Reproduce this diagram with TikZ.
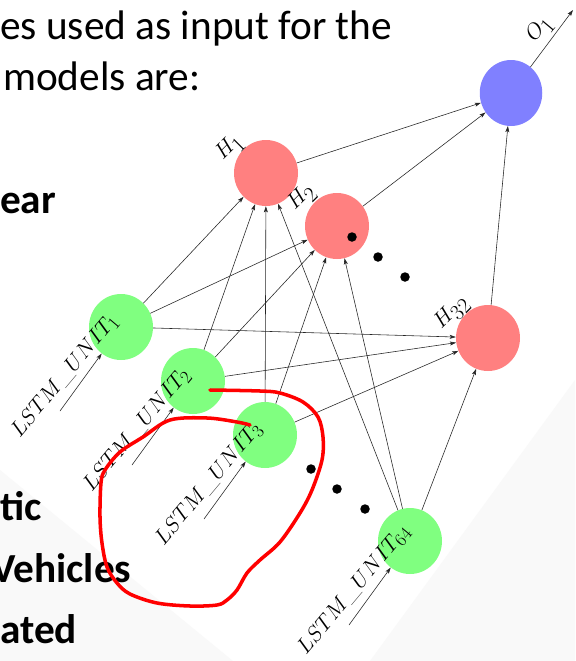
\documentclass[tikz,border=0pt]{standalone}
\usepackage{fontspec}
\newfontfamily\slidefont{Carlito}
\usetikzlibrary{positioning}
\usetikzlibrary{shapes}
\usetikzlibrary{arrows.meta}
\tikzset{unitnode/.style={ellipse, minimum width=25.6mm, minimum height=26.4mm, inner sep=0pt, fill=green!50}}
\tikzset{hidnode/.style={ellipse, minimum width=25.6mm, minimum height=26.4mm, inner sep=0pt, fill=red!50}}
\tikzset{outnode/.style={ellipse, minimum width=25mm, minimum height=26.4mm, inner sep=0pt, fill=blue!50}}
\tikzset{dotnode/.style={circle, fill=black, inner sep=0pt, minimum size=3.8mm}}
\tikzset{conn/.style={->, draw=black!85, line width=0.65pt}}
\tikzset{unitlabel/.style={font=\fontsize{28}{30}\selectfont, rotate=50, inner sep=0pt}}
\tikzset{hlabel/.style={font=\fontsize{33}{36}\selectfont, rotate=45, inner sep=0pt}}
\tikzset{slidetext/.style={anchor=base west, inner sep=0pt, font=\slidefont\fontsize{47}{54}\selectfont}}
\tikzset{slidebold/.style={anchor=base west, inner sep=0pt, font=\slidefont\bfseries\fontsize{47}{54}\selectfont}}
\tikzset{redpen/.style={draw=red, line width=4pt, line cap=round, line join=round}}
\tikzset{>={Stealth[length=7pt, width=4.5pt, inset=1.5pt]}}

\begin{document}
\begin{tikzpicture}[x=0.4mm, y=-0.4mm]

\useasboundingbox (0,0) rectangle (575,661);
\fill[white] (0,0) rectangle (575,661);
% faint slide backdrop
\fill[gray!5] (0,470) -- (233,661) -- (0,661) -- cycle;
\fill[gray!5] (370,661) -- (575,380) -- (575,661) -- cycle;

% slide text
\node[slidetext] (txt1) at (0,39) {es used as input for the};
\node[slidetext] (txt2) at (3,90) {models are:};
\node[slidebold] (txt3) at (0,213) {ear};
\node[slidebold] (txt4) at (0,520) {tic};
\node[slidebold] (txt5) at (-9,582) {Vehicles};
\node[slidebold] (txt6) at (0,643) {ated};

% network
\node[outnode] (o1) at (511,93) {};
\node[hidnode] (h1) at (266,173) {};
\node[hidnode] (h2) at (337,226) {};
\node[hidnode] (h32) at (488,338) {};
\node[unitnode] (u1) at (121,327) {};
\node[unitnode] (u2) at (193,381) {};
\node[unitnode] (u3) at (265,435) {};
\node[unitnode] (u64) at (410,541) {};

\node[dotnode] (d1) at (352,237) {};
\node[dotnode] (d2) at (378,257) {};
\node[dotnode] (d3) at (405,277) {};
\node[dotnode] (d4) at (311,469) {};
\node[dotnode] (d5) at (337,489) {};
\node[dotnode] (d6) at (365,509) {};

\coordinate (u1in) at (60,411);
\coordinate (u2in) at (132,465);
\coordinate (u3in) at (204,519);
\coordinate (u64in) at (349,625);
\coordinate (o1out) at (573,10);

\draw[conn] (u1in) -- (u1);
\draw[conn] (u2in) -- (u2);
\draw[conn] (u3in) -- (u3);
\draw[conn] (u64in) -- (u64);

\draw[conn] (u1) -- (h1);
\draw[conn] (u1) -- (h2);
\draw[conn] (u1) -- (h32);
\draw[conn] (u2) -- (h1);
\draw[conn] (u2) -- (h2);
\draw[conn] (u2) -- (h32);
\draw[conn] (u3) -- (h1);
\draw[conn] (u3) -- (h2);
\draw[conn] (u3) -- (h32);
\draw[conn] (u64) -- (h1);
\draw[conn] (u64) -- (h2);
\draw[conn] (u64) -- (h32);

\draw[conn] (h1) -- (o1);
\draw[conn] (h2) -- (o1);
\draw[conn] (h32) -- (o1);
\draw[conn] (o1) -- (o1out);

\node[unitlabel] (u1lab) at (65,376) {$LSTM\_UNIT_1$};
\node[unitlabel] (u2lab) at (137,430) {$LSTM\_UNIT_2$};
\node[unitlabel] (u3lab) at (209,484) {$LSTM\_UNIT_3$};
\node[unitlabel] (u64lab) at (354,590) {$LSTM\_UNIT_{64}$};

\node[hlabel] (h1lab) at (230,148) {$H_1$};
\node[hlabel] (h2lab) at (302,198) {$H_2$};
\node[hlabel] (h32lab) at (452,313) {$H_{32}$};
\node[hlabel, rotate=5] (o1lab) at (540,30) {$O_1$};

% pen loop round the third unit
\draw[redpen] plot[smooth, tension=0.55] coordinates {(210,390) (260,391) (280,393) (303,402) (318,417) (323,437) (322,460) (312,490) (300,513) (280,542) (260,560) (247,573) (237,590) (227,600) (217,605) (190,606) (157,603) (130,594) (117,583) (107,567) (102,543) (100,517) (101,483) (105,470) (120,452) (143,437) (170,420) (207,418) (237,422) (250,425)};

\end{tikzpicture}
\end{document}
